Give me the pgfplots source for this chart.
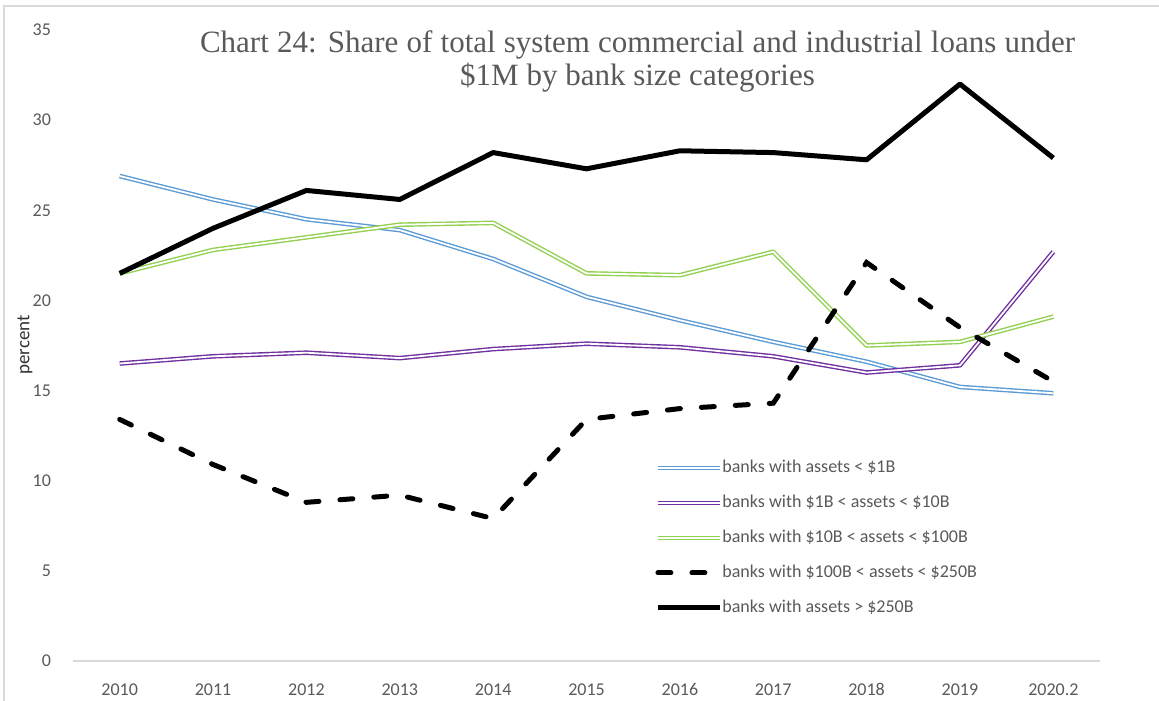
\documentclass[border=0pt]{standalone}
\usepackage{fontspec}
\setmainfont{Carlito}
\newfontfamily\titlefont{Liberation Serif}
\usepackage{pgfplots}
\pgfplotsset{compat=1.18}
\definecolor{cblue}{HTML}{5B9BD5}
\definecolor{cpurple}{HTML}{7030A0}
\definecolor{cgreen}{HTML}{92D050}
\definecolor{txtgray}{HTML}{595959}
\definecolor{linegray}{HTML}{D9D9D9}
\begin{document}
\begin{tikzpicture}
\useasboundingbox (-36.5pt,-19.5pt) rectangle (543pt,330.5pt);
\draw[linegray, line width=1pt] (-34.5pt,-25pt) -- (-34.5pt,327.5pt) -- (560pt,327.5pt);
\begin{axis}[
  at={(0,0)}, anchor=south west,
  scale only axis,
  width=513.5pt, height=315.5pt,
  xmin=-0.5, xmax=10.5, ymin=0, ymax=35,
  xtick={0,...,10},
  xticklabels={2010,2011,2012,2013,2014,2015,2016,2017,2018,2019,2020.2},
  ytick={0,5,...,35},
  major tick length=0pt,
  axis x line=bottom, axis y line=left,
  x axis line style={draw=linegray, line width=0.8pt, -},
  y axis line style={draw=none},
  /pgf/number format/assume math mode=true,
  ticklabel style={font=\fontsize{9}{11}\selectfont, text=txtgray},
  yticklabel style={anchor=east, xshift=-7.5pt},
  xticklabel style={anchor=base, yshift=-17pt},
  ylabel={percent},
  ylabel style={at={(rel axis cs:-0.0468,0.501)}, anchor=center, rotate=0, font=\fontsize{9.5}{11}\selectfont, text=black!80},
  title={\makebox[437.5pt][s]{Chart 24: Share of total system commercial and industrial loans under}\\\$1M by bank size categories},
  title style={at={(rel axis cs:0.5497,0.981)}, anchor=north, inner sep=0pt, align=center, font=\titlefont\fontsize{15.5}{16.5}\selectfont, text=txtgray},
  clip=false,
  legend cell align=left,
  legend image code/.code={\draw[#1] (0pt,0pt) -- (31pt,0pt);},
  legend style={at={(rel axis cs:0.5667,0.320)}, anchor=north west, draw=none, fill=none,
    font=\fontsize{9}{11}\selectfont, text=txtgray, row sep=9pt, inner sep=0pt,
    nodes={text height=6.5pt, text depth=2pt, inner sep=0pt}},
  /tikz/every even column/.append style={column sep=3pt},
]
\addplot[draw=cblue, double=white, line width=0.7pt, double distance=0.9pt, line join=round] coordinates {
(0,26.9) (1,25.6) (2,24.5) (3,23.9) (4,22.3) (5,20.2) (6,18.9) (7,17.7) (8,16.6) (9,15.2) (10,14.85)};
\addlegendentry{banks with assets < \$1B}
\addplot[draw=cpurple, double=white, line width=0.7pt, double distance=0.9pt, line join=round] coordinates {
(0,16.5) (1,16.9) (2,17.1) (3,16.8) (4,17.3) (5,17.6) (6,17.4) (7,16.9) (8,16.0) (9,16.4) (10,22.7)};
\addlegendentry{banks with \$1B < assets < \$10B}
\addplot[draw=cgreen, double=white, line width=0.7pt, double distance=0.9pt, line join=round] coordinates {
(0,21.5) (1,22.8) (2,23.5) (3,24.2) (4,24.3) (5,21.5) (6,21.4) (7,22.7) (8,17.5) (9,17.7) (10,19.1)};
\addlegendentry{banks with \$10B < assets < \$100B}
\addplot[draw=black, line width=2.5pt, line cap=round, dash pattern=on 6.5pt off 10.5pt] coordinates {
(0,13.4) (1,10.9) (2,8.8) (3,9.2) (4,7.9) (5,13.4) (6,14.0) (7,14.3) (8,22.1) (9,18.5) (10,15.5)};
\addlegendentry{banks with \$100B < assets < \$250B}
\addplot[draw=black, line width=2.5pt, line join=round] coordinates {
(0,21.5) (1,24.0) (2,26.1) (3,25.6) (4,28.2) (5,27.3) (6,28.3) (7,28.2) (8,27.8) (9,32.0) (10,27.9)};
\addlegendentry{banks with assets > \$250B}
\end{axis}
\end{tikzpicture}
\end{document}
